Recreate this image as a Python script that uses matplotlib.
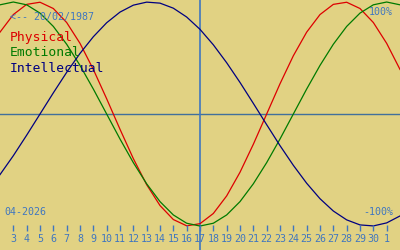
import matplotlib.pyplot as plt

# days shown on the axis (31 = 1st of next month)
days = list(range(2, 33))
tick_days = list(range(3, 32))
tick_labels = [str(d) for d in range(3, 31)] + ["1"]
today = 17

# biorhythm values, one per day
physical = [0.731, 0.888, 0.979, 0.998, 0.942, 0.817, 0.631, 0.398, 0.136, -0.136,
            -0.398, -0.631, -0.817, -0.942, -0.998, -0.979, -0.888, -0.731, -0.520, -0.270,
            0.0, 0.270, 0.520, 0.731, 0.888, 0.979, 0.998, 0.942, 0.817, 0.631, 0.398]
emotional = [0.975, 1.0, 0.975, 0.901, 0.782, 0.623, 0.434, 0.223, 0.0, -0.223,
             -0.434, -0.623, -0.782, -0.901, -0.975, -1.0, -0.975, -0.901, -0.782, -0.623,
             -0.434, -0.223, 0.0, 0.223, 0.434, 0.623, 0.782, 0.901, 0.975, 1.0, 0.975]
intellectual = [-0.541, -0.372, -0.189, 0.0, 0.189, 0.372, 0.541, 0.690, 0.815, 0.910,
                0.972, 0.999, 0.990, 0.945, 0.866, 0.756, 0.618, 0.458, 0.282, 0.095,
                -0.095, -0.282, -0.458, -0.618, -0.756, -0.866, -0.945, -0.990, -0.999, -0.972, -0.910]

birth = "<-- 20/02/1987"
month = "04-2026"

bg = "#e1d283"
blue = "#3f76c0"
mono = "DejaVu Sans Mono"

fig = plt.figure(figsize=(4, 2.5), dpi=100)
fig.patch.set_facecolor(bg)
ax = fig.add_axes([0, 0, 1, 1])
ax.set_facecolor(bg)
ax.set_xlim(2, 32)
ax.set_ylim(-1.214, 1.018)
ax.axis("off")

# zero line and today marker
ax.axhline(0, color="#41709c", lw=1.0)
ax.axvline(today, color=blue, lw=1.2)

ax.plot(days, physical, color="#dd0000", lw=0.9)
ax.plot(days, emotional, color="#007a00", lw=0.9)
ax.plot(days, intellectual, color="#000080", lw=0.9)

# day ticks along the bottom
tr = ax.get_xaxis_transform()
ax.vlines(tick_days, 0.076, 0.1, color=blue, lw=1.0, transform=tr)
for d, lab in zip(tick_days, tick_labels):
    ax.text(d, 0.046, lab, transform=tr, ha="center", va="center",
            color=blue, fontsize=7.2, family=mono)

# labels
ax.text(0.025, 0.932, birth, transform=ax.transAxes, ha="left", va="center",
        color=blue, fontsize=7.2, family=mono)
ax.text(0.025, 0.848, "Physical", transform=ax.transAxes, ha="left", va="center",
        color="#dd0000", fontsize=9.4, family=mono)
ax.text(0.025, 0.788, "Emotional", transform=ax.transAxes, ha="left", va="center",
        color="#007a00", fontsize=9.4, family=mono)
ax.text(0.025, 0.728, "Intellectual", transform=ax.transAxes, ha="left", va="center",
        color="#000080", fontsize=9.4, family=mono)
ax.text(0.983, 0.952, "100%", transform=ax.transAxes, ha="right", va="center",
        color=blue, fontsize=7.2, family=mono)
ax.text(0.983, 0.152, "-100%", transform=ax.transAxes, ha="right", va="center",
        color=blue, fontsize=7.2, family=mono)
ax.text(0.01, 0.152, month, transform=ax.transAxes, ha="left", va="center",
        color=blue, fontsize=7.2, family=mono)

fig.savefig("out.png", dpi=100, facecolor=bg)
